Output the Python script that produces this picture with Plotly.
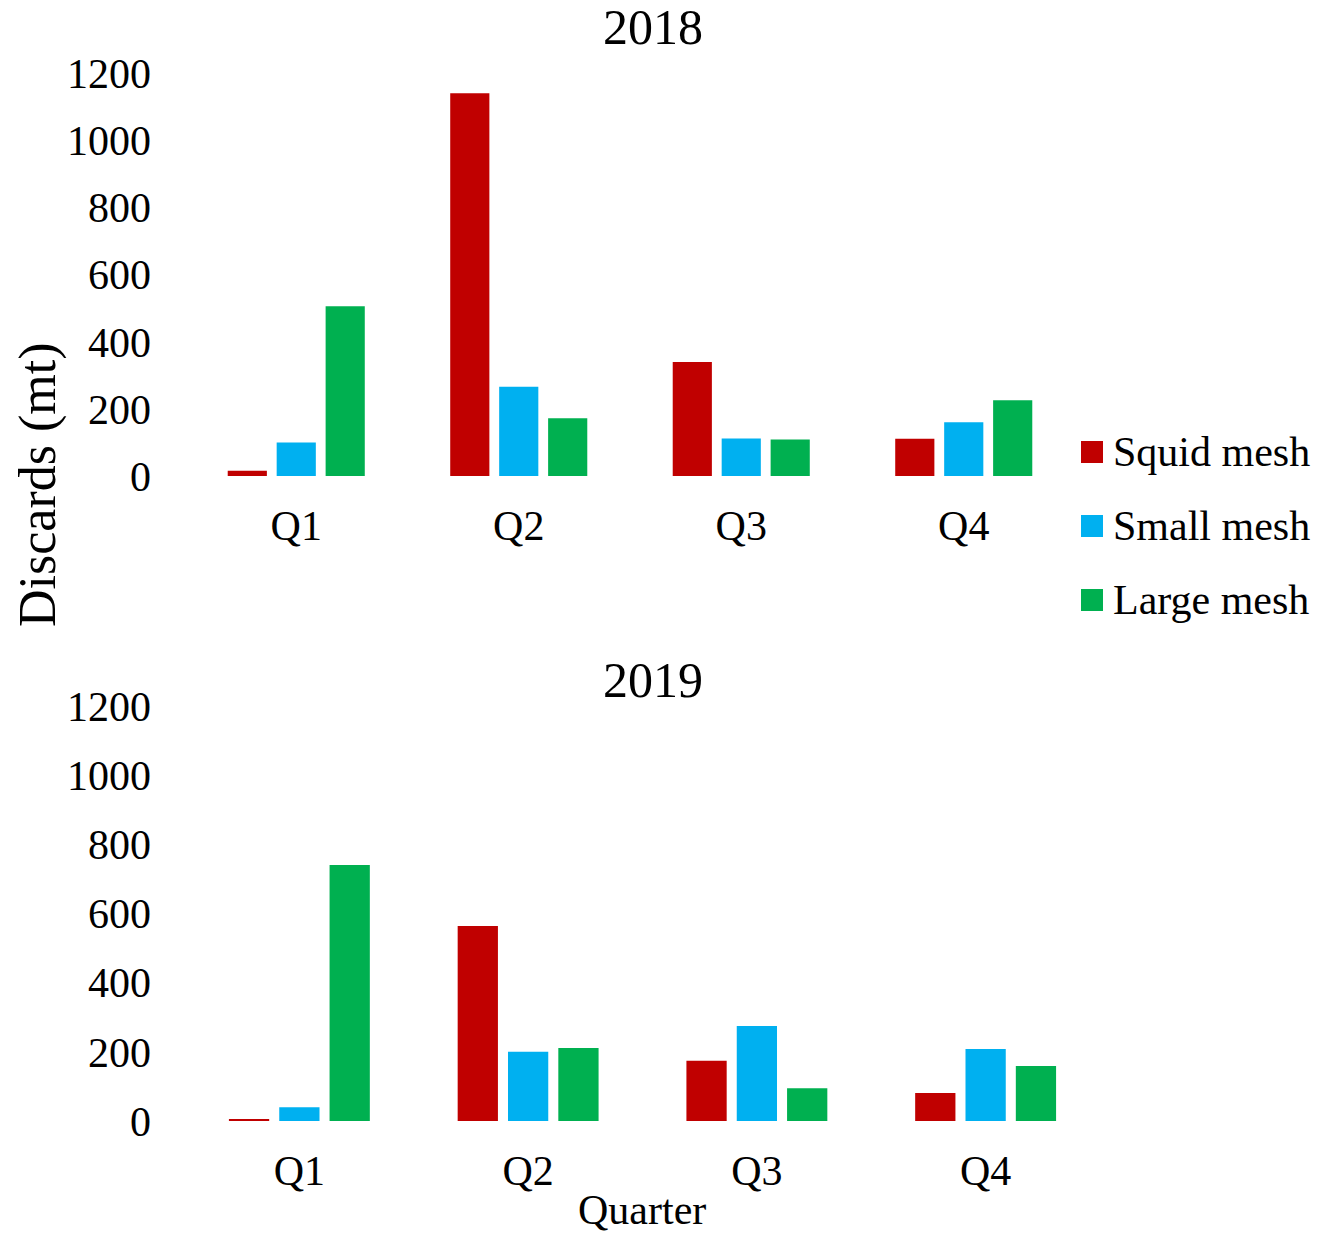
import plotly.graph_objects as go

quarters = ["Q1", "Q2", "Q3", "Q4"]
series_names = ["Squid mesh", "Small mesh", "Large mesh"]
colors = ["#C00000", "#00B0F0", "#00B050"]

squid_2018 = [16, 1141, 340, 111]
small_2018 = [100, 266, 112, 160]
large_2018 = [506, 172, 109, 226]

squid_2019 = [5, 564, 174, 81]
small_2019 = [40, 200, 275, 208]
large_2019 = [740, 211, 95, 159]

y_ticks = [0, 200, 400, 600, 800, 1000, 1200]

FONT = "Liberation Serif, Times New Roman, serif"
W, H = 1322, 1234

fig = go.Figure()
data_2018 = [squid_2018, small_2018, large_2018]
data_2019 = [squid_2019, small_2019, large_2019]
for name, color, vals in zip(series_names, colors, data_2018):
    fig.add_trace(go.Bar(x=quarters, y=vals, name=name, marker_color=color,
                         marker_line_width=0, xaxis="x", yaxis="y", showlegend=False))
for name, color, vals in zip(series_names, colors, data_2019):
    fig.add_trace(go.Bar(x=quarters, y=vals, name=name, marker_color=color,
                         marker_line_width=0, xaxis="x2", yaxis="y2", showlegend=False))

axis_common = dict(showgrid=False, zeroline=False, showline=False, ticks="", automargin=False,
                   tickfont=dict(family=FONT, size=42, color="black"))

fig.update_layout(
    width=W, height=H,
    margin=dict(l=0, r=0, t=0, b=0, pad=0),
    paper_bgcolor="white", plot_bgcolor="white",
    barmode="group", bargap=0.34, bargroupgap=0.2,
    font=dict(family=FONT, color="black"),
    xaxis=dict(domain=[185 / W, 1075 / W], anchor="y", ticklabelstandoff=21, **axis_common),
    yaxis=dict(domain=[(H - 476) / H, (H - 73.5) / H], anchor="x", range=[0, 1200],
               tickvals=y_ticks, ticklabelstandoff=33, **axis_common),
    xaxis2=dict(domain=[185 / W, 1100 / W], anchor="y2", ticklabelstandoff=21, **axis_common),
    yaxis2=dict(domain=[(H - 1121) / H, (H - 706) / H], anchor="x2", range=[0, 1200],
                tickvals=y_ticks, ticklabelstandoff=33, **axis_common),
)

annotations = [
    dict(text="2018", x=653 / W, y=(H - 27) / H, xref="paper", yref="paper",
         showarrow=False, font=dict(family=FONT, size=50), xanchor="center", yanchor="middle"),
    dict(text="2019", x=653 / W, y=(H - 680) / H, xref="paper", yref="paper",
         showarrow=False, font=dict(family=FONT, size=50), xanchor="center", yanchor="middle"),
    dict(text="Discards (mt)", x=38 / W, y=(H - 485) / H, xref="paper", yref="paper",
         showarrow=False, textangle=-90, font=dict(family=FONT, size=52),
         xanchor="center", yanchor="middle"),
    dict(text="Quarter", x=642 / W, y=(H - 1210) / H, xref="paper", yref="paper",
         showarrow=False, font=dict(family=FONT, size=42), xanchor="center", yanchor="middle"),
]
shapes = []
legend_y = [452, 526, 600]
for name, color, yc in zip(series_names, colors, legend_y):
    shapes.append(dict(type="rect", xref="paper", yref="paper",
                       x0=1081 / W, x1=1103 / W, y0=(H - yc - 11) / H, y1=(H - yc + 11) / H,
                       fillcolor=color, line=dict(width=0)))
    annotations.append(dict(text=name, x=1111 / W, y=(H - yc) / H, xref="paper", yref="paper",
                            showarrow=False, font=dict(family=FONT, size=42),
                            xanchor="left", yanchor="middle"))
fig.update_layout(annotations=annotations, shapes=shapes)

fig.write_html("out.html", config={"displayModeBar": False},
               post_script="document.body.style.margin='0';document.body.style.overflow='hidden';")
